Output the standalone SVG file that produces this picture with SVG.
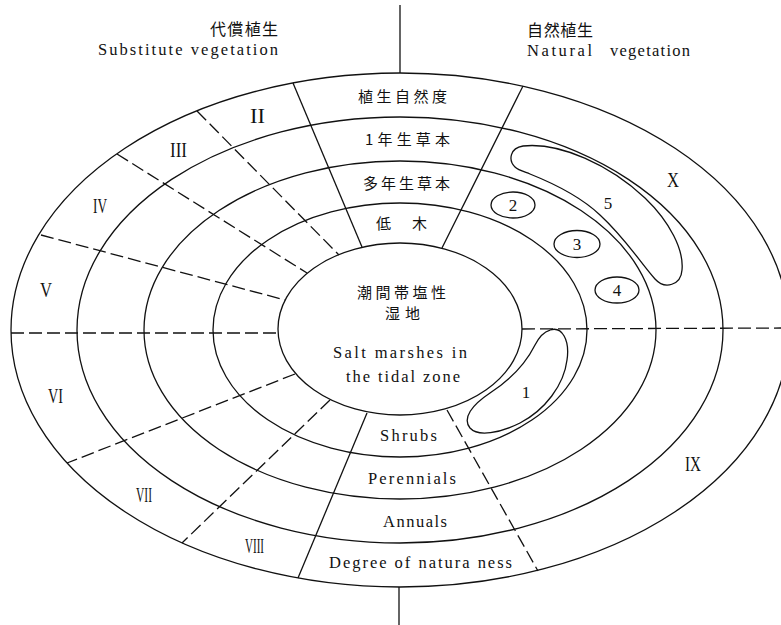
<svg xmlns="http://www.w3.org/2000/svg" width="781" height="625" viewBox="0 0 781 625">
<style>
.ln{fill:none;stroke:#111;stroke-width:1.3}
.ds{fill:none;stroke:#111;stroke-width:1.3;stroke-dasharray:13 5}
.en{font-family:"Liberation Serif",serif;font-size:16.5px;fill:#111}
.jp{font-family:"Noto Sans CJK JP","Noto Sans CJK SC",sans-serif;font-size:15px;fill:#111}
.rn{font-family:"Liberation Serif",serif;font-size:21px;fill:#111}
.nm{font-family:"Liberation Serif",serif;font-size:17px;fill:#111;text-anchor:middle}
</style>
<rect width="781" height="625" fill="#fff"/>
<g id="rings">
<ellipse class="ln" cx="400" cy="330" rx="389" ry="257"/>
<ellipse class="ln" cx="400" cy="330" rx="323" ry="213"/>
<ellipse class="ln" cx="400" cy="330" rx="256" ry="169"/>
<ellipse class="ln" cx="400" cy="330" rx="187" ry="127"/>
</g>
<g id="connectors">
<line class="ln" x1="400" y1="5" x2="400" y2="73"/>
<line class="ln" x1="399" y1="587" x2="399" y2="625"/>
<line class="ln" x1="293" y1="83" x2="362" y2="247"/>
<line class="ln" x1="523" y1="86" x2="442" y2="248"/>
<line class="ln" x1="367" y1="413" x2="298" y2="578"/>
<line class="ds" x1="447" y1="410" x2="538" y2="571"/>
<line class="ds" x1="197" y1="111" x2="339" y2="255"/>
<line class="ds" x1="117" y1="154" x2="307" y2="273"/>
<line class="ds" x1="41" y1="235" x2="285" y2="300"/>
<line class="ds" x1="11" y1="333" x2="278" y2="333"/>
<line class="ds" x1="295" y1="374" x2="67" y2="463"/>
<line class="ds" x1="330" y1="400" x2="182" y2="543"/>
<line class="ds" x1="522" y1="329" x2="781" y2="328"/>
</g>
<g id="center">
<ellipse class="ln" cx="400" cy="329" rx="122" ry="86" fill="#fff"/>
<text class="jp" x="357" y="298" textLength="89" lengthAdjust="spacing">潮間帯塩性</text>
<text class="jp" x="385" y="319" textLength="35" lengthAdjust="spacing">湿地</text>
<text class="en" x="333" y="358" textLength="134" lengthAdjust="spacing">Salt marshes in</text>
<text class="en" x="346" y="382" textLength="114" lengthAdjust="spacing">the tidal zone</text>
</g>
<g id="blob5">
<path class="ln" d="M515,167 C508,160 510,148 523,146 C560,142 610,165 645,198 C670,222 684,250 682,270 C681,285 665,290 655,279 C640,262 625,238 600,215 C580,196 555,184 530,174 C522,171 518,170 515,167 Z"/>
<text class="nm" x="608" y="209">5</text>
</g>
<g id="blob1">
<path class="ln" d="M550,330 C562,326 570,340 567,360 C564,385 545,410 520,423 C500,433 478,437 470,428 C462,418 472,405 490,393 C510,380 525,365 535,345 C539,337 543,332 550,330 Z"/>
<text class="nm" x="526" y="398">1</text>
</g>
<g id="blob2"><ellipse class="ln" cx="513" cy="205" rx="22" ry="13"/><text class="nm" x="513" y="211">2</text></g>
<g id="blob3"><ellipse class="ln" cx="577" cy="244" rx="23" ry="13.5"/><text class="nm" x="577" y="250">3</text></g>
<g id="blob4"><ellipse class="ln" cx="617" cy="290" rx="22" ry="13"/><text class="nm" x="617" y="296">4</text></g>
<g id="headers">
<text class="jp" style="font-size:16px" x="210" y="35" textLength="68" lengthAdjust="spacing">代償植生</text>
<text class="en" x="98" y="55" textLength="180" lengthAdjust="spacing">Substitute vegetation</text>
<text class="jp" style="font-size:16px" x="527" y="36" textLength="66" lengthAdjust="spacing">自然植生</text>
<text class="en" y="56"><tspan x="527" textLength="65" lengthAdjust="spacing">Natural</tspan><tspan x="610" textLength="80" lengthAdjust="spacing">vegetation</tspan></text>
</g>
<g id="ring-labels-jp">
<text class="jp" x="358" y="102" textLength="89" lengthAdjust="spacing">植生自然度</text>
<text class="jp" x="365" y="145" textLength="85" lengthAdjust="spacing">1年生草本</text>
<text class="jp" x="363" y="189" textLength="87" lengthAdjust="spacing">多年生草本</text>
<text class="jp" y="229"><tspan x="376">低</tspan><tspan x="412">木</tspan></text>
</g>
<g id="ring-labels-en">
<text class="en" x="380" y="441" textLength="57" lengthAdjust="spacing">Shrubs</text>
<text class="en" x="368" y="484" textLength="88" lengthAdjust="spacing">Perennials</text>
<text class="en" x="383" y="527" textLength="64" lengthAdjust="spacing">Annuals</text>
<text class="en" x="329" y="568" textLength="183" lengthAdjust="spacing">Degree of natura ness</text>
</g>
<g id="sectors">
<text class="rn" x="250" y="123" textLength="15" lengthAdjust="spacingAndGlyphs">II</text>
<text class="rn" x="170" y="157" textLength="17" lengthAdjust="spacingAndGlyphs">III</text>
<text class="rn" x="93" y="213" textLength="14" lengthAdjust="spacingAndGlyphs">IV</text>
<text class="rn" x="40" y="297" textLength="12" lengthAdjust="spacingAndGlyphs">V</text>
<text class="rn" x="48" y="403" textLength="15" lengthAdjust="spacingAndGlyphs">VI</text>
<text class="rn" x="136" y="502" textLength="16" lengthAdjust="spacingAndGlyphs">VII</text>
<text class="rn" x="245" y="553" textLength="19" lengthAdjust="spacingAndGlyphs">VIII</text>
<text class="rn" x="685" y="471" textLength="16" lengthAdjust="spacingAndGlyphs">IX</text>
<text class="rn" x="667" y="187" textLength="12" lengthAdjust="spacingAndGlyphs">X</text>
</g>
</svg>
